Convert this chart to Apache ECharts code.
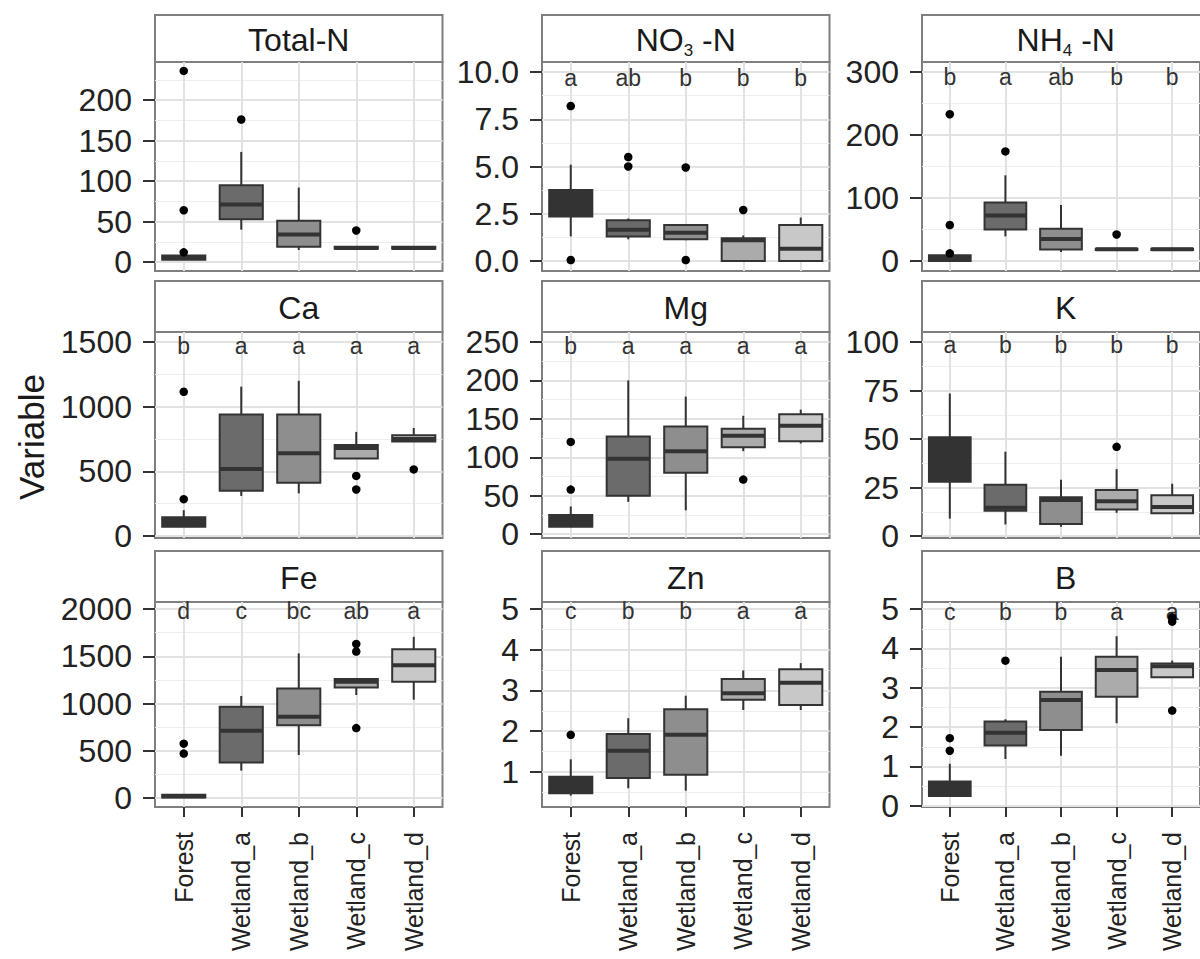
<!DOCTYPE html>
<html>
<head>
<meta charset="utf-8">
<title>Variable by site</title>
<script src="https://cdn.jsdelivr.net/npm/echarts@6.0.0/dist/echarts.min.js"></script>
<style>
  html, body { margin: 0; padding: 0; background: #fff; overflow: hidden; }
  #chart { width: 1200px; height: 959px; }
</style>
</head>
<body>
<div id="chart"></div>
<script>
const groups = ['Forest', 'Wetland_a', 'Wetland_b', 'Wetland_c', 'Wetland_d'];
const groupFills = ['#333333', '#6b6b6b', '#8e8e8e', '#ababab', '#c8c8c8'];

// box stats per group: [lower whisker, Q1, median, Q3, upper whisker]
const totalN = [[3, 3, 5, 8, 8], [40, 53, 71, 95, 136], [15, 19, 34, 51, 92], [16, 16.5, 17.5, 19, 19], [16, 16.5, 17.5, 19, 19]];
const totalNOut = [[236, 64, 12], [176], [], [39], []];
const totalNTicks = ['0', '50', '100', '150', '200'];

const no3 = [[1.3, 2.35, 3.0, 3.75, 5.1], [1.15, 1.3, 1.65, 2.15, 2.25], [1.1, 1.15, 1.5, 1.9, 1.95], [0, 0, 1.1, 1.2, 1.35], [0, 0, 0.65, 1.9, 2.3]];
const no3Out = [[8.2, 0.05], [5.5, 5.0], [4.95, 0.05], [2.7], []];
const no3Letters = ['a', 'ab', 'b', 'b', 'b'];
const no3Ticks = ['0.0', '2.5', '5.0', '7.5', '10.0'];

const nh4 = [[0, 0, 3, 9, 9], [39, 50, 72, 93, 136], [14, 18, 35, 51, 89], [17, 17.5, 18.5, 19.5, 20], [17, 17.5, 18.5, 19.5, 20]];
const nh4Out = [[233, 57, 12], [174], [], [42], []];
const nh4Letters = ['b', 'a', 'ab', 'b', 'b'];
const nh4Ticks = ['0', '100', '200', '300'];

const ca = [[72, 72, 110, 145, 200], [310, 350, 518, 940, 1155], [330, 412, 640, 940, 1200], [600, 600, 680, 704, 805], [730, 730, 750, 780, 835]];
const caOut = [[1115, 285], [], [], [465, 360], [515]];
const caLetters = ['b', 'a', 'a', 'a', 'a'];
const caTicks = ['0', '500', '1000', '1500'];

const mg = [[9, 9.5, 15, 25, 36], [42, 50, 98, 127, 200], [31, 80, 108, 140, 179], [108, 113, 128, 137, 154], [118, 121, 141, 156, 162]];
const mgOut = [[120, 58], [], [], [71], []];
const mgLetters = ['b', 'a', 'a', 'a', 'a'];
const mgTicks = ['0', '50', '100', '150', '200', '250'];

const k = [[9, 28, 38, 51, 73.5], [6, 13, 14.6, 26.5, 43.5], [4.8, 6.2, 18.6, 20, 29], [12, 13.7, 18, 23.7, 34.5], [11.7, 11.7, 15, 21, 27]];
const kOut = [[], [], [], [46], []];
const kLetters = ['a', 'b', 'b', 'b', 'b'];
const kTicks = ['0', '25', '50', '75', '100'];

const fe = [[5, 5, 20, 35, 35], [290, 375, 712, 965, 1080], [455, 770, 860, 1160, 1530], [1090, 1170, 1230, 1260, 1260], [1040, 1230, 1405, 1575, 1705]];
const feOut = [[575, 470], [], [], [1630, 1550, 740], []];
const feLetters = ['d', 'c', 'bc', 'ab', 'a'];
const feTicks = ['0', '500', '1000', '1500', '2000'];

const zn = [[0.42, 0.48, 0.65, 0.88, 1.31], [0.6, 0.85, 1.52, 1.93, 2.32], [0.54, 0.93, 1.91, 2.54, 2.87], [2.52, 2.77, 2.93, 3.28, 3.49], [2.52, 2.64, 3.19, 3.52, 3.67]];
const znOut = [[1.91], [], [], [], []];
const znLetters = ['c', 'b', 'b', 'a', 'a'];
const znTicks = ['1', '2', '3', '4', '5'];

const bor = [[0.25, 0.25, 0.4, 0.62, 1.07], [1.19, 1.53, 1.86, 2.14, 2.2], [1.27, 1.93, 2.69, 2.9, 3.79], [2.1, 2.77, 3.45, 3.79, 4.31], [3.27, 3.27, 3.55, 3.62, 3.69]];
const borOut = [[1.72, 1.4], [3.69], [], [], [4.79, 4.68, 2.42]];
const borLetters = ['c', 'b', 'b', 'a', 'a'];
const borTicks = ['0', '1', '2', '3', '4', '5'];

// height of the letter row in each panel, and the y extent of each panel
const letterY = [null, 9.7, 292, 1470, 245, 98.5, 1979, 4.95, 4.92];
const yMin = [-11, -0.53, -16, -15, -5, -1, -95, 0.14, -0.03];
const yMax = [247, 10.53, 316, 1577, 263, 105.2, 2074, 5.17, 5.18];

const panels = [
  { name: 'Total-N', boxes: totalN, out: totalNOut, letters: null, ticks: totalNTicks },
  { name: 'NO{sub|3} -N', boxes: no3, out: no3Out, letters: no3Letters, ticks: no3Ticks },
  { name: 'NH{sub|4} -N', boxes: nh4, out: nh4Out, letters: nh4Letters, ticks: nh4Ticks },
  { name: 'Ca', boxes: ca, out: caOut, letters: caLetters, ticks: caTicks },
  { name: 'Mg', boxes: mg, out: mgOut, letters: mgLetters, ticks: mgTicks },
  { name: 'K', boxes: k, out: kOut, letters: kLetters, ticks: kTicks },
  { name: 'Fe', boxes: fe, out: feOut, letters: feLetters, ticks: feTicks },
  { name: 'Zn', boxes: zn, out: znOut, letters: znLetters, ticks: znTicks },
  { name: 'B', boxes: bor, out: borOut, letters: borLetters, ticks: borTicks }
];

const font = 'Liberation Sans, Arial, sans-serif';
const colLeft = [155, 542, 922];
const plotW = 287.5;
const stripTop = [15, 281, 551];
const plotTop = [62, 332, 602];
const plotH = [209, 206, 205];

function renderBox(params, api) {
  const j = api.value(0);
  const x = api.coord([j, 0])[0];
  const half = api.size([1, 0])[0] * 0.375;
  const y = d => api.coord([j, api.value(d)])[1];
  const lo = y(1), q1 = y(2), med = y(3), q3 = y(4), hi = y(5);
  const stroke = '#333333';
  return {
    type: 'group',
    children: [
      { type: 'line', shape: { x1: x, y1: hi, x2: x, y2: q3 }, style: { stroke, lineWidth: 2 } },
      { type: 'line', shape: { x1: x, y1: q1, x2: x, y2: lo }, style: { stroke, lineWidth: 2 } },
      { type: 'rect', shape: { x: x - half, y: q3, width: half * 2, height: q1 - q3 }, style: { fill: groupFills[j], stroke, lineWidth: 2 } },
      { type: 'line', shape: { x1: x - half, y1: med, x2: x + half, y2: med }, style: { stroke, lineWidth: 4 } }
    ]
  };
}

const grid = [], xAxis = [], yAxis = [], series = [], graphic = [];

panels.forEach((p, i) => {
  const r = Math.floor(i / 3), c = i % 3;
  const left = colLeft[c], top = plotTop[r];
  const bottomRow = r === 2;
  const tickVals = p.ticks.map(Number);
  const step = tickVals[1] - tickVals[0];
  const minors = [];
  for (let v = tickVals[0] - step / 2; v < yMax[i]; v += step) {
    if (v > yMin[i]) minors.push(+v.toFixed(4));
  }

  grid.push({ left, top, width: plotW, height: plotH[r], show: true, borderColor: '#7f7f7f', borderWidth: 2 });

  // vertical grid lines at the category centres
  xAxis.push({
    type: 'value', gridIndex: i, position: 'top', min: 0, max: 5,
    axisLine: { show: false, onZero: false }, axisLabel: { show: false },
    axisTick: { show: false, customValues: [0.5, 1.5, 2.5, 3.5, 4.5] },
    splitLine: { show: true, lineStyle: { color: '#e2e2e2', width: 2 } }
  });
  xAxis.push({
    type: 'category', gridIndex: i, position: 'bottom', data: groups, boundaryGap: true,
    axisLine: { show: false, onZero: false },
    axisTick: { show: bottomRow, alignWithLabel: true, length: 10, lineStyle: { color: '#333', width: 2 } },
    axisLabel: { show: bottomRow, rotate: 90, fontSize: 25, fontFamily: font, color: '#222', margin: 25 },
    splitLine: { show: false }
  });

  // minor horizontal grid lines
  yAxis.push({
    type: 'value', gridIndex: i, position: 'right', min: yMin[i], max: yMax[i],
    axisLine: { show: false, onZero: false }, axisLabel: { show: false },
    axisTick: { show: false, customValues: minors },
    splitLine: { show: true, lineStyle: { color: '#eeeeee', width: 1.2 } }
  });
  yAxis.push({
    type: 'value', gridIndex: i, position: 'left', min: yMin[i], max: yMax[i],
    axisLine: { show: false, onZero: false },
    axisTick: { show: true, length: 12, customValues: tickVals, lineStyle: { color: '#333', width: 2 } },
    axisLabel: {
      show: true, customValues: tickVals, fontSize: 32, fontFamily: font, color: '#222', margin: 23,
      formatter: v => p.ticks[tickVals.indexOf(v)]
    },
    splitLine: { show: true, lineStyle: { color: '#e2e2e2', width: 2 } }
  });

  series.push({
    type: 'custom', xAxisIndex: 2 * i + 1, yAxisIndex: 2 * i + 1, silent: true, z: 3,
    data: p.boxes.map((s, j) => [j].concat(s)),
    encode: { x: 0, y: [1, 2, 3, 4, 5] },
    renderItem: renderBox
  });
  series.push({
    type: 'scatter', xAxisIndex: 2 * i + 1, yAxisIndex: 2 * i + 1, silent: true, z: 4,
    data: p.out.flatMap((vals, j) => vals.map(v => [j, v])),
    symbol: 'circle', symbolSize: 8.5, itemStyle: { color: '#000', opacity: 1 }
  });
  if (p.letters) {
    series.push({
      type: 'custom', xAxisIndex: 2 * i + 1, yAxisIndex: 2 * i + 1, silent: true, z: 4,
      data: p.letters.map((l, j) => [j, letterY[i]]),
      renderItem: (params, api) => {
        const pt = api.coord([api.value(0), api.value(1)]);
        return {
          type: 'text', x: pt[0], y: pt[1],
          style: { text: p.letters[params.dataIndex], fontSize: 23, fontFamily: font, fill: '#333', align: 'center', verticalAlign: 'middle' }
        };
      }
    });
  }

  // facet strip
  graphic.push({
    type: 'rect', shape: { x: left, y: stripTop[r], width: plotW, height: top - stripTop[r] },
    style: { fill: '#fff', stroke: '#7f7f7f', lineWidth: 2 }
  });
  graphic.push({
    type: 'text', x: left + plotW / 2, y: (stripTop[r] + top) / 2 + 1,
    style: {
      text: p.name, fontSize: 32, fontFamily: font, fill: '#1a1a1a', align: 'center', verticalAlign: 'middle',
      rich: { sub: { fontSize: 17, fontFamily: font, fill: '#1a1a1a', padding: [21, 0, 0, 0] } }
    }
  });
});

graphic.push({
  type: 'text', x: 31, y: 437, rotation: Math.PI / 2,
  style: { text: 'Variable', fontSize: 35, fontFamily: font, fill: '#1a1a1a', align: 'center', verticalAlign: 'middle' }
});

const chart = echarts.init(document.getElementById('chart'), null, { renderer: 'svg' });
chart.setOption({
  backgroundColor: '#fff',
  animation: false,
  grid, xAxis, yAxis, series, graphic
});
</script>
</body>
</html>
